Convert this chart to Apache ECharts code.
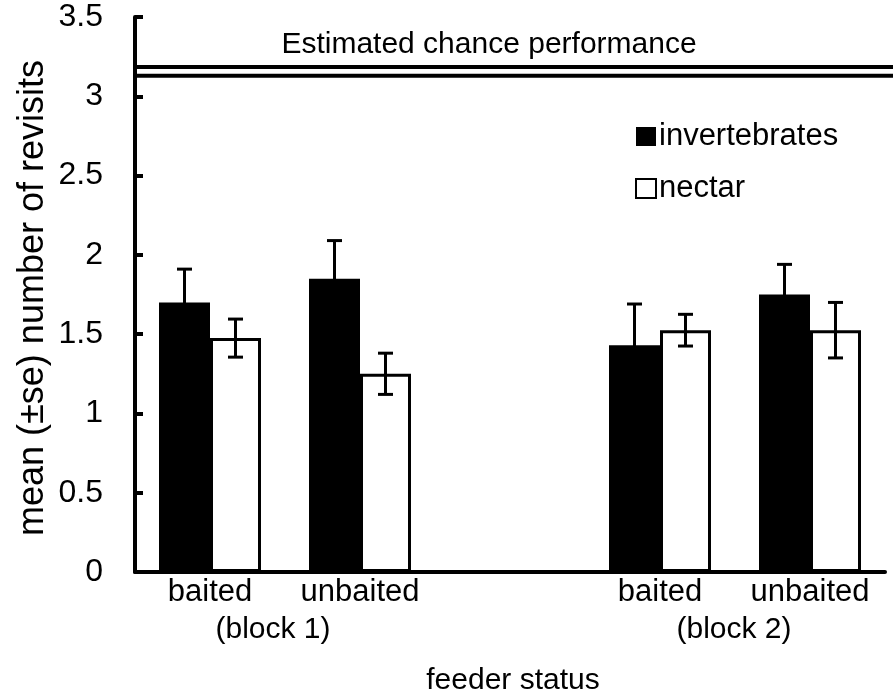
<!DOCTYPE html>
<html><head><meta charset="utf-8">
<script src="https://cdn.jsdelivr.net/npm/echarts@6/dist/echarts.min.js"></script>
<style>html,body{margin:0;padding:0;background:#fff}#c{width:894px;height:696px}</style>
</head><body><div id="c"></div>
<script>
// ---- data ----
const categories = ['baited', 'unbaited', '', 'baited', 'unbaited'];
const invertebrates = [1.70, 1.85, null, 1.43, 1.75];
const invertebratesSE = [0.21, 0.24, null, 0.26, 0.19];
const nectar = [1.475, 1.25, null, 1.525, 1.525];
const nectarSE = [0.12, 0.13, null, 0.10, 0.175];
const chanceLines = [3.185, 3.13];
const blockLabels = ['(block 1)', '(block 2)'];
const yMin = 0, yMax = 3.5, yInterval = 0.5;

const FONT = '"Liberation Sans", Arial, sans-serif';
const chart = echarts.init(document.getElementById('c'), null, {renderer: 'canvas'});
const CAT_GAP = 0.32;

function errData(vals, ses) {
  const out = [];
  vals.forEach((v, i) => { if (v != null) out.push([i, v, ses[i]]); });
  return out;
}
function errRender(sign) {
  return function (params, api) {
    const i = api.value(0), v = api.value(1), se = api.value(2);
    const bw = api.size([1, 0])[0] * (1 - CAT_GAP) / 2;
    const x = api.coord([i, v])[0] + sign * bw / 2;
    const yHi = api.coord([i, v + se])[1];
    const yLo = api.coord([i, v - se])[1];
    const c = 7.5;
    const st = {stroke: '#000', lineWidth: 3};
    return {type: 'group', children: [
      {type: 'line', shape: {x1: x, y1: yHi, x2: x, y2: yLo}, style: st},
      {type: 'line', shape: {x1: x - c, y1: yHi, x2: x + c, y2: yHi}, style: st},
      {type: 'line', shape: {x1: x - c, y1: yLo, x2: x + c, y2: yLo}, style: st}
    ]};
  };
}

const option = {
  animation: false,
  backgroundColor: '#fff',
  grid: {left: 135, right: 9, top: 17, bottom: 124, containLabel: false},
  legend: {
    orient: 'vertical', left: 630, top: 116,
    itemWidth: 20, itemHeight: 19, itemGap: 21,
    icon: 'rect',
    textStyle: {fontSize: 31, fontFamily: FONT, color: '#000', padding: [0, 0, 0, -2]},
    data: ['invertebrates', 'nectar']
  },
  xAxis: {
    type: 'category', data: categories,
    axisLine: {lineStyle: {color: '#000', width: 4}},
    axisTick: {inside: true, length: 8, lineStyle: {color: '#000', width: 4}, interval: 0},
    axisLabel: {fontSize: 31, fontFamily: FONT, color: '#000', margin: 5, interval: 0}
  },
  yAxis: {
    type: 'value', min: yMin, max: yMax, interval: yInterval,
    splitLine: {show: false},
    axisLine: {show: true, lineStyle: {color: '#000', width: 4}},
    axisTick: {show: true, inside: true, length: 8, lineStyle: {color: '#000', width: 4}},
    axisLabel: {fontSize: 32, fontFamily: FONT, color: '#000', margin: 32,
      formatter: v => String(v)}
  },
  series: [
    {name: 'invertebrates', type: 'bar', data: invertebrates, barGap: '0%', barCategoryGap: (CAT_GAP * 100) + '%',
      itemStyle: {color: '#000', borderColor: '#000', borderWidth: 0}},
    {name: 'nectar', type: 'bar', data: nectar, barGap: '0%', barCategoryGap: (CAT_GAP * 100) + '%',
      itemStyle: {color: '#fff', borderColor: '#000', borderWidth: 3}},
    {type: 'custom', z: 10, renderItem: errRender(-1), data: errData(invertebrates, invertebratesSE),
      encode: {x: 0, y: 1}, silent: true},
    {type: 'custom', z: 10, renderItem: errRender(1), data: errData(nectar, nectarSE),
      encode: {x: 0, y: 1}, silent: true}
  ]
};
chart.setOption(option);

// overlay: chance lines and text labels
const W = chart.getWidth();
const g = [];
chanceLines.forEach(v => {
  const y = chart.convertToPixel({yAxisIndex: 0}, v);
  g.push({type: 'line', shape: {x1: 135, y1: y, x2: W - 1, y2: y}, style: {stroke: '#000', lineWidth: 4}, z: 20});
});
const yTop = chart.convertToPixel({yAxisIndex: 0}, chanceLines[0]);
g.push({type: 'text', x: 489, y: yTop - 22,
  style: {text: 'Estimated chance performance', font: '30px ' + FONT, fill: '#000', textAlign: 'center', textVerticalAlign: 'middle'}, z: 20});
g.push({type: 'text', x: 273, y: 630, style: {text: blockLabels[0], font: '30px ' + FONT, fill: '#000', textAlign: 'center', textVerticalAlign: 'middle'}});
g.push({type: 'text', x: 734, y: 630, style: {text: blockLabels[1], font: '30px ' + FONT, fill: '#000', textAlign: 'center', textVerticalAlign: 'middle'}});
g.push({type: 'text', x: 513, y: 681, style: {text: 'feeder status', font: '30px ' + FONT, fill: '#000', textAlign: 'center', textVerticalAlign: 'middle'}});
g.push({type: 'text', x: 33, y: 298, rotation: Math.PI / 2,
  style: {text: 'mean (±se) number of revisits', font: '36px ' + FONT, fill: '#000', textAlign: 'center', textVerticalAlign: 'middle'}});
chart.setOption({graphic: g});
</script>
</body></html>
